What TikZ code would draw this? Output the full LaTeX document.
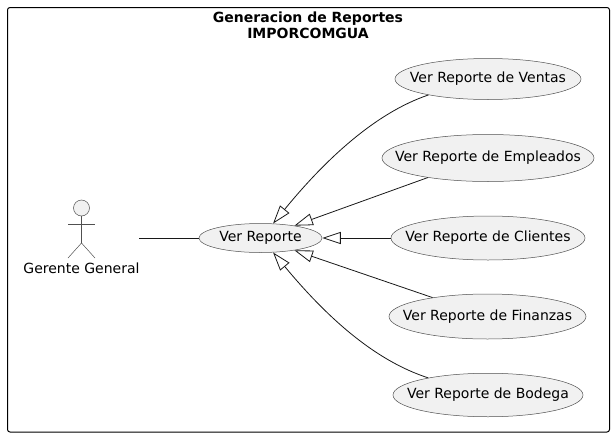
\documentclass[tikz,border=0pt]{standalone}
\usepackage{fontspec}
\setmainfont{DejaVu Sans}
\usetikzlibrary{shapes.geometric,arrows.meta}
\definecolor{umlfill}{HTML}{F1F1F1}
\definecolor{umlline}{HTML}{181818}
\definecolor{umlthin}{HTML}{505050}
\tikzset{
  x=1pt,y=-1pt,
  usecase/.style={ellipse,draw=umlthin,line width=0.5pt,fill=umlfill,inner sep=0pt},
  uclabel/.style={text=black,inner sep=0pt,font=\fontsize{14}{16}\selectfont},
  limb/.style={draw=umlthin,line width=0.5pt},
  assoc/.style={draw=umlline,line width=0.8pt},
  gen/.style={assoc,-{Triangle[open,length=18.5pt,width=12pt,line width=0.8pt]}},
}
\begin{document}
\begin{tikzpicture}
\useasboundingbox (0,0) rectangle (614,437);
\draw[black,line width=1pt,rounded corners=2.5pt] (7.5,7.5) rectangle (609.5,432);
\node[align=center,font=\bfseries\fontsize{14}{16.3}\selectfont] (title) at (308,25) {Generacion de Reportes\\IMPORCOMGUA};

\node[usecase,minimum width=123pt,minimum height=29pt,label={[uclabel]center:Ver Reporte}] (ver) at (260.5,238) {};
\node[usecase,minimum width=186pt,minimum height=41pt,label={[uclabel]center:Ver Reporte de Ventas}] (ventas) at (488,79) {};
\node[usecase,minimum width=212pt,minimum height=47pt,label={[uclabel]center:Ver Reporte de Empleados}] (empleados) at (488,158) {};
\node[usecase,minimum width=194pt,minimum height=44pt,label={[uclabel]center:Ver Reporte de Clientes}] (clientes) at (488,238) {};
\node[usecase,minimum width=197pt,minimum height=45pt,label={[uclabel]center:Ver Reporte de Finanzas}] (finanzas) at (487.5,316.5) {};
\node[usecase,minimum width=190pt,minimum height=43.5pt,label={[uclabel]center:Ver Reporte de Bodega}] (bodega) at (488,395) {};

\node[circle,draw=umlthin,line width=0.5pt,fill=umlfill,minimum size=16pt,inner sep=0pt] (head) at (81.5,208) {};
\coordinate (neck) at (81.5,243);
\coordinate (armL) at (68,224);
\coordinate (armR) at (95,224);
\coordinate (legL) at (68,258);
\coordinate (legR) at (95,258);
\draw[limb] (head.south) -- (neck);
\draw[limb] (armL) -- (armR);
\draw[limb] (legL) -- (neck) -- (legR);
\node[font=\fontsize{14}{16}\selectfont] (actorlabel) at (81.5,268) {Gerente General};
\coordinate (actorend) at (139,238);

\draw[assoc] (actorend) -- (ver.west);
\draw[gen] (ventas.195) .. controls (375,113) and (325,160) .. (ver.49);
\draw[gen] (empleados.198.6) -- (ver.20);
\draw[gen] (clientes.west) -- (ver.east);
\draw[gen] (finanzas.161) -- (ver.-20);
\draw[gen] (bodega.164.5) .. controls (373,360) and (325,315) .. (ver.-49);
\end{tikzpicture}
\end{document}
